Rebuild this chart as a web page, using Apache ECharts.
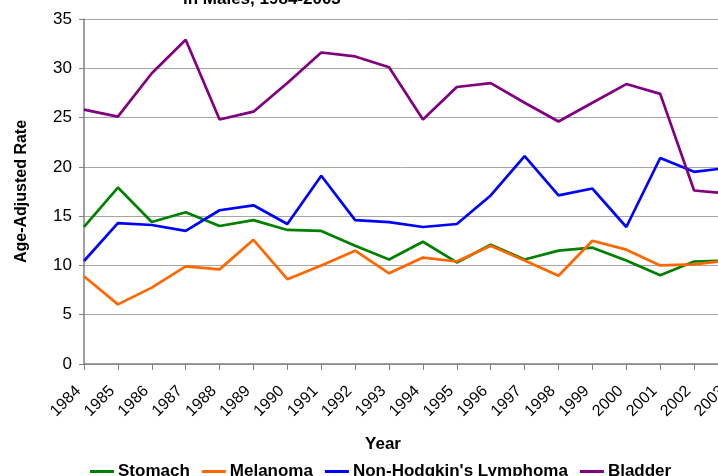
<!DOCTYPE html>
<html>
<head>
<meta charset="utf-8">
<script src="https://cdn.jsdelivr.net/npm/echarts@6/dist/echarts.min.js"></script>
<style>
  html, body { margin: 0; padding: 0; background: #fff; }
  #chart { width: 718px; height: 476px; }
</style>
</head>
<body>
<div id="chart"></div>
<script>
const years = ['1984', '1985', '1986', '1987', '1988', '1989', '1990', '1991', '1992', '1993',
    '1994', '1995', '1996', '1997', '1998', '1999', '2000', '2001', '2002', '2003'];
const stomach = [13.9, 17.9, 14.4, 15.4, 14.0, 14.6, 13.6, 13.5, 12.0, 10.6,
    12.4, 10.3, 12.1, 10.6, 11.5, 11.8, 10.5, 9.0, 10.4, 10.5];
const melanoma = [8.9, 6.05, 7.75, 9.9, 9.6, 12.6, 8.6, 10.0, 11.5, 9.2,
    10.8, 10.4, 12.0, 10.5, 8.95, 12.5, 11.6, 10.0, 10.1, 10.5];
const lymphoma = [10.45, 14.3, 14.1, 13.5, 15.6, 16.1, 14.2, 19.1, 14.6, 14.4,
    13.9, 14.2, 17.1, 21.1, 17.1, 17.8, 13.9, 20.9, 19.5, 19.9];
const bladder = [25.8, 25.1, 29.5, 32.9, 24.8, 25.6, 28.5, 31.6, 31.2, 30.1,
    24.8, 28.1, 28.5, 26.5, 24.6, 26.5, 28.4, 27.4, 17.6, 17.3];
const yTicks = [0, 5, 10, 15, 20, 25, 30, 35];

const myChart = echarts.init(document.getElementById('chart'));
const font = 'Liberation Sans, Arial, sans-serif';

const line = (name, color, data) => ({
    name: name,
    type: 'line',
    symbol: 'none',
    lineStyle: { color: color, width: 2.7 },
    itemStyle: { color: color },
    data: data
});

const option = {
    animation: false,
    title: {
        text: 'in Males, 1984-2003',
        left: 178,
        top: -14,
        textStyle: { fontFamily: font, fontSize: 17, fontWeight: 'bold', color: '#000' }
    },
    legend: {
        left: 85,
        top: 458,
        icon: 'rect',
        itemWidth: 24,
        itemHeight: 3,
        itemGap: 12,
        textStyle: { fontFamily: font, fontSize: 17, fontWeight: 'bold', color: '#000', padding: [0, 0, 0, -1] },
        data: ['Stomach', 'Melanoma', "Non-Hodgkin's Lymphoma", 'Bladder']
    },
    grid: {
        left: 84,
        top: 19,
        width: 644,
        height: 345,
        containLabel: false,
        outerBoundsMode: 'none'
    },
    xAxis: {
        type: 'category',
        boundaryGap: false,
        data: years,
        name: 'Year',
        nameLocation: 'middle',
        nameGap: 72,
        nameTextStyle: { fontFamily: font, fontSize: 17, fontWeight: 'bold', color: '#000', padding: [0, 46, 0, 0] },
        axisLine: { lineStyle: { color: '#808080', width: 1.5 } },
        axisTick: { alignWithLabel: true, length: 6, lineStyle: { color: '#808080' } },
        axisLabel: { rotate: 45, interval: 0, margin: 19, padding: [0, 8, 0, 0], fontFamily: font, fontSize: 16, color: '#000' },
        splitLine: { show: false }
    },
    yAxis: {
        type: 'value',
        min: yTicks[0],
        max: yTicks[yTicks.length - 1],
        interval: 5,
        name: 'Age-Adjusted Rate',
        nameLocation: 'middle',
        nameGap: 54,
        nameTextStyle: { fontFamily: font, fontSize: 16, fontWeight: 'bold', color: '#000' },
        axisLine: { show: true, lineStyle: { color: '#808080', width: 1.5 } },
        axisTick: { show: true, length: 5, lineStyle: { color: '#808080' } },
        axisLabel: { margin: 12, fontFamily: font, fontSize: 17, color: '#000' },
        splitLine: { lineStyle: { color: '#a6a6a6', width: 1 } }
    },
    series: [
        line('Stomach', '#008000', stomach),
        line('Melanoma', '#ff6600', melanoma),
        line("Non-Hodgkin's Lymphoma", '#0000ff', lymphoma),
        line('Bladder', '#800080', bladder)
    ]
};

myChart.setOption(option);
</script>
</body>
</html>
